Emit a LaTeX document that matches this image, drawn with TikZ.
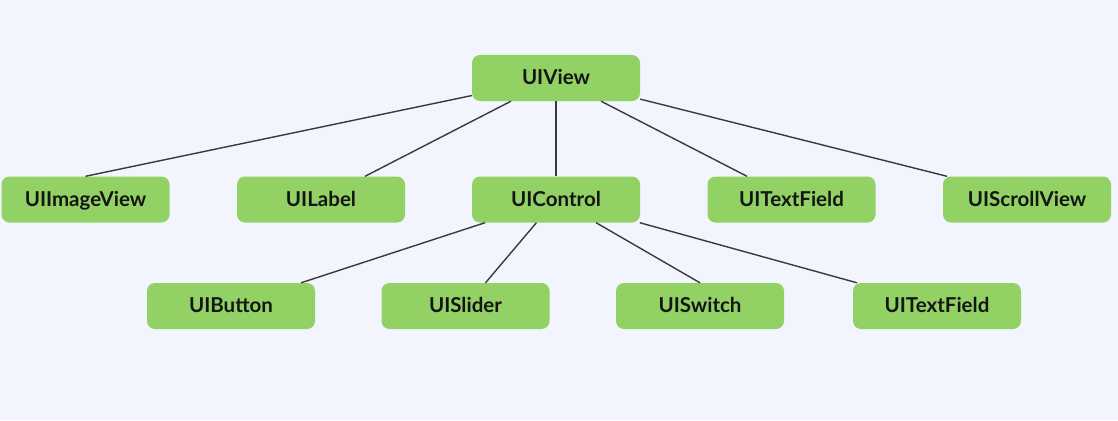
\documentclass[tikz,border=0pt]{standalone}
\usepackage{fontspec}
\setmainfont{Lato}
\definecolor{bg}{HTML}{F2F5FD}
\definecolor{boxgreen}{HTML}{92D264}
\definecolor{edgecol}{HTML}{3A3A3A}
\definecolor{txt}{HTML}{151515}
\begin{document}
\begin{tikzpicture}[x=1pt,y=-1pt,
  cls/.style={draw=none,fill=boxgreen,rounded corners=8pt,minimum width=168pt,minimum height=46pt,inner sep=0pt,text height=13.5pt,text depth=0pt,font=\fontsize{20.5}{24}\selectfont\bfseries,text=txt},
  edge/.style={draw=edgecol,line width=1.4pt}]
\fill[bg] (0,0) rectangle (1118,420);
\useasboundingbox (0,0) rectangle (1118,420);
\node[cls] (view) at (556,78) {UIView};
\node[cls] (iv) at (85.5,199.5) {UIImageView};
\node[cls] (lbl) at (321,199.5) {UILabel};
\node[cls] (ctl) at (556,199.5) {UIControl};
\node[cls] (tf) at (791.5,199.5) {UITextField};
\node[cls] (sv) at (1027,199.5) {UIScrollView};
\node[cls] (btn) at (231,306) {UIButton};
\node[cls] (sld) at (465.5,306) {UISlider};
\node[cls] (sw) at (700,306) {UISwitch};
\node[cls] (tf2) at (937,306) {UITextField};
\draw[edge] (view) -- (iv.north);
\draw[edge] (view) -- ([xshift=44pt]lbl.north);
\draw[edge] (view) -- (ctl.north);
\draw[edge] (view) -- ([xshift=-44.5pt]tf.north);
\draw[edge] (view) -- ([xshift=-80pt]sv.north);
\draw[edge] (ctl) -- ([xshift=70pt]btn.north);
\draw[edge] (ctl) -- ([xshift=20pt]sld.north);
\draw[edge] (ctl) -- (sw.north);
\draw[edge] (ctl) -- ([xshift=-80pt]tf2.north);
\end{tikzpicture}
\end{document}
